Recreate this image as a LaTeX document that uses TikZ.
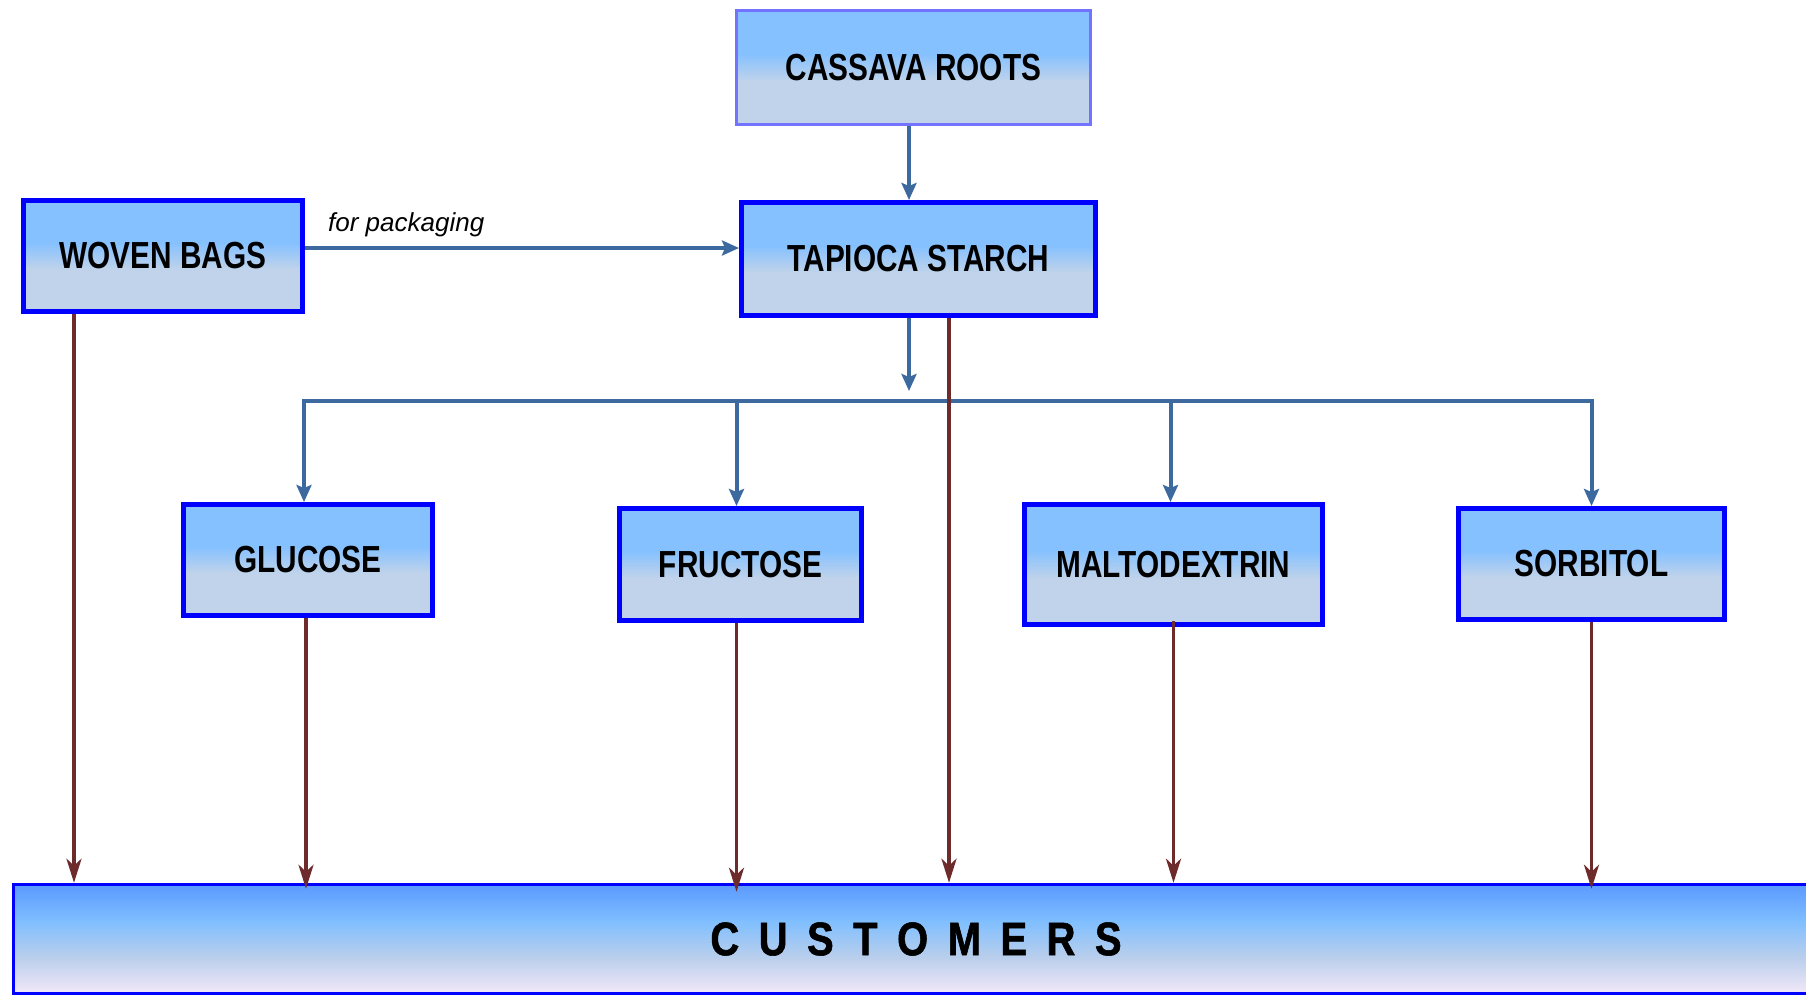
\documentclass[tikz,border=0pt]{standalone}
\usepackage{fontspec}
\setmainfont{Liberation Sans}
\newfontfamily\boxfont[FakeStretch=0.79]{Liberation Sans Bold}
\newfontfamily\custfont[FakeStretch=0.85,FakeBold=1.2]{Liberation Sans Bold}
\usetikzlibrary{arrows.meta}
\definecolor{boxtop}{HTML}{85C1FF}
\definecolor{boxbot}{HTML}{C0D3EA}
\definecolor{custtop}{HTML}{5A9AFF}
\definecolor{custmid}{HTML}{80BFFF}
\definecolor{custlow}{HTML}{B8CEEC}
\definecolor{custbot}{HTML}{F3E8F8}
\definecolor{flowblue}{HTML}{3D6A9E}
\definecolor{flowbrown}{HTML}{6E2B2B}
\definecolor{lightedge}{HTML}{7373FF}
\definecolor{pureblue}{HTML}{0000FF}
\pgfdeclareverticalshading{boxshade}{100bp}{color(0bp)=(boxbot); color(25bp)=(boxbot); color(44bp)=(boxbot); color(56bp)=(boxtop); color(75bp)=(boxtop); color(100bp)=(boxtop)}
\pgfdeclareverticalshading{custshade}{100bp}{color(0bp)=(custbot); color(25bp)=(custbot); color(42bp)=(custlow); color(58bp)=(custmid); color(75bp)=(custtop); color(100bp)=(custtop)}
\tikzset{
  box/.style={draw=pureblue, line width=5pt, shading=boxshade, inner sep=0pt,
    font=\boxfont\fontsize{37.7}{40}\selectfont},
  custbox/.style={draw=pureblue, line width=3.5pt, shading=custshade, inner sep=0pt,
    font=\custfont\fontsize{47}{50}\selectfont},
  flowline/.style={draw=flowblue, line width=4pt, line cap=rect},
  flow/.style={draw=flowblue, line width=4pt, -{Stealth[length=17pt,width=15pt,inset=3pt]}},
  supply/.style={draw=flowbrown, line width=3.8pt, -{Stealth[length=24pt,width=15pt,inset=7pt]}},
  note/.style={font=\itshape\fontsize{26}{28}\selectfont, inner sep=0pt, anchor=west}
}
\begin{document}
\begin{tikzpicture}[x=1pt,y=-1pt]
\useasboundingbox (0,0) rectangle (1806,997);
\fill[white] (0,0) rectangle (1806,997);

\node[box, draw=lightedge, line width=3.5pt, minimum width=354pt, minimum height=114pt] (cassava) at (913.5,67.5) {CASSAVA ROOTS};
\node[box, minimum width=354pt, minimum height=113pt] (tapioca) at (918.5,259) {TAPIOCA STARCH};
\node[box, minimum width=279pt, minimum height=111pt] (woven) at (163,256) {WOVEN BAGS};
\node[box, minimum width=249pt, minimum height=111pt] (glucose) at (308,560) {GLUCOSE};
\node[box, minimum width=242pt, minimum height=112pt] (fructose) at (740.5,564.5) {FRUCTOSE};
\node[box, minimum width=298pt, minimum height=120pt] (malto) at (1173.5,564.5) {MALTODEXTRIN};
\node[box, minimum width=266pt, minimum height=111pt] (sorbitol) at (1591.5,564) {SORBITOL};
\node[custbox, minimum width=1805pt, minimum height=109pt] (customers) at (916,939)
  {C\kern19.5pt U\kern19.5pt S\kern19.5pt T\kern19.5pt O\kern19.5pt M\kern19.5pt E\kern19.5pt R\kern19.5pt S};

\node[note] (packlabel) at (328,225) {for packaging};

\coordinate (packy) at (0,248);
\coordinate (busy) at (0,401);
\coordinate (busarrow) at (909,391);
\coordinate (gdrop) at ([xshift=-4pt]glucose.north |- busy);
\coordinate (sdrop) at (sorbitol.north |- busy);

\draw[flow] ([xshift=-4.5pt]cassava.south) -- ([xshift=-4.5pt]cassava.south |- tapioca.north);
\draw[flow] (woven.east |- packy) -- (tapioca.west |- packy);
\draw[flow] ([xshift=-9.5pt]tapioca.south) -- (busarrow);

\draw[flowline] (gdrop) -- (sdrop);
\draw[flow] (gdrop) -- ([xshift=-4pt]glucose.north);
\draw[flow] ([xshift=-4pt]fructose.north |- busy) -- ([xshift=-4pt]fructose.north);
\draw[flow] ([xshift=-3pt]malto.north |- busy) -- ([xshift=-3pt]malto.north);
\draw[flow] (sdrop) -- (sorbitol.north);

\draw[supply] ([xshift=-89pt]woven.south) -- ([xshift=-89pt]woven.south |- customers.north);
\draw[supply] ([xshift=-2pt]glucose.south) -- ([xshift=-2pt,yshift=-6pt]glucose.south |- customers.north);
\draw[supply] ([xshift=-4pt]fructose.south) -- ([xshift=-4pt,yshift=-9pt]fructose.south |- customers.north);
\draw[supply] ([xshift=30.5pt]tapioca.south) -- ([xshift=30.5pt]tapioca.south |- customers.north);
\draw[supply] ([yshift=6pt]malto.south) -- (malto.south |- customers.north);
\draw[supply] (sorbitol.south) -- ([yshift=-6pt]sorbitol.south |- customers.north);
\end{tikzpicture}
\end{document}
